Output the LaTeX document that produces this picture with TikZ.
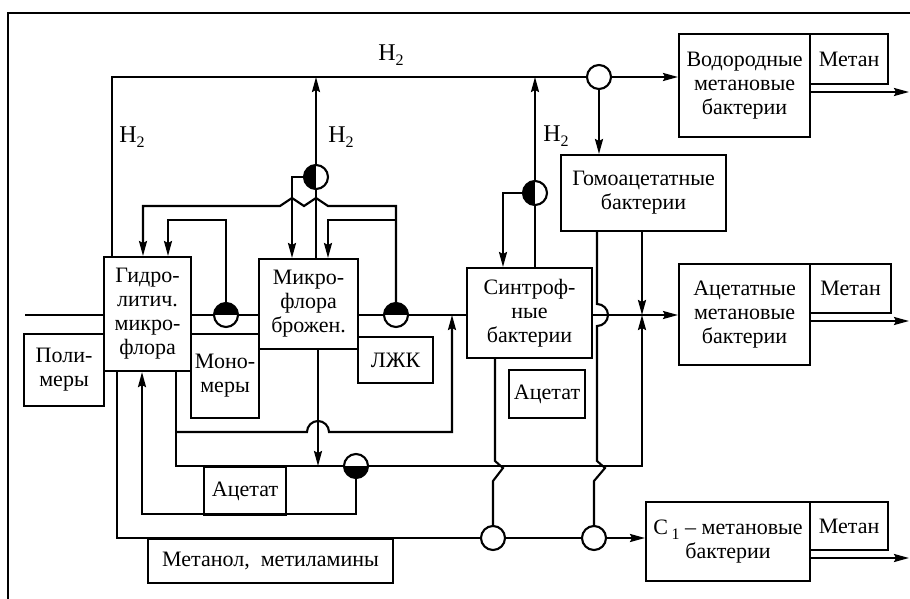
\documentclass[tikz,border=0pt]{standalone}
\usepackage{fontspec}
\setmainfont{Liberation Serif}
\usetikzlibrary{arrows.meta,calc}
\newcommand{\subnum}[1]{\raisebox{-5.5pt}{\fontsize{16}{16}\selectfont #1}}
\begin{document}
\begin{tikzpicture}[x=1pt,y=-1pt,line width=2.1pt,
  font=\fontsize{22}{24}\selectfont,
  box/.style={draw,inner sep=0pt,align=center,anchor=north west},
  circ/.style={circle,draw,fill=white,minimum size=24pt,inner sep=0pt},
  hftop/.style={circ,path picture={\fill[black] (path picture bounding box.west) rectangle (path picture bounding box.north east);}},
  hfbot/.style={circ,path picture={\fill[black] (path picture bounding box.west) rectangle (path picture bounding box.south east);}},
  hfleft/.style={circ,path picture={\fill[black] (path picture bounding box.south west) rectangle (path picture bounding box.north);}},
  arr/.style={-{Stealth[length=15pt,width=8pt,inset=2pt]}},
  lbl/.style={inner sep=0pt,font=\fontsize{24}{24}\selectfont}]
\useasboundingbox (0,0) rectangle (910,599);
% frame
\coordinate (fr1) at (910,13);
\coordinate (fr2) at (8,13);
\coordinate (fr3) at (8,599);
\draw (fr1) -- (fr2) -- (fr3);
% boxes
\node[box,minimum width=87pt,minimum height=114pt] (gidro) at (103,256) {Гидро-\\литич.\\микро-\\флора};
\node[box,minimum width=80pt,minimum height=72pt] (poli) at (23,333) {Поли-\\меры};
\node[box,minimum width=68pt,minimum height=84pt] (mono) at (190,333) {Моно-\\меры};
\node[box,minimum width=99pt,minimum height=90pt] (mikro) at (258,258) {Микро-\\флора\\брожен.};
\node[box,minimum width=75pt,minimum height=46pt] (lzhk) at (357,336) {ЛЖК};
\node[box,minimum width=125pt,minimum height=90pt] (synt) at (466,267) {Синтроф-\\ные\\бактерии};
\node[box,minimum width=76pt,minimum height=48pt] (acet2) at (508,369) {Ацетат};
\node[box,minimum width=165pt,minimum height=76pt] (gomo) at (560,154) {Гомоацетатные\\бактерии};
\node[box,minimum width=131pt,minimum height=103pt] (vodo) at (678,33) {Водородные\\метановые\\бактерии};
\node[box,minimum width=78pt,minimum height=50pt] (metan1) at (809,33) {Метан};
\node[box,minimum width=131pt,minimum height=101pt] (acetm) at (678,263) {Ацетатные\\метановые\\бактерии};
\node[box,minimum width=81pt,minimum height=49pt] (metan2) at (809,263) {Метан};
\node[box,minimum width=164pt,minimum height=79pt] (cone) at (645,501) {C\,\subnum{1} – метановые\\бактерии};
\node[box,minimum width=78pt,minimum height=48pt] (metan3) at (809,501) {Метан};
\node[box,minimum width=82pt,minimum height=48pt] (acet1) at (203,466) {Ацетат};
\node[box,minimum width=245pt,minimum height=44pt] (metanol) at (147,538) {Метанол,\ \ метиламины};
% circles
\node[circ] (co1) at (599,77) {};
\node[hfleft] (ch1) at (316,177) {};
\node[hfleft] (ch2) at (535,193) {};
\node[hftop] (ch3) at (226,315) {};
\node[hftop] (ch4) at (396,315) {};
\node[hfbot] (ch5) at (356,466) {};
\node[circ] (co2) at (493,538) {};
\node[circ] (co3) at (594,538) {};
% labels
\node[lbl] (h2a) at (391,55) {H\subnum{2}};
\node[lbl] (h2b) at (132,137) {H\subnum{2}};
\node[lbl] (h2c) at (341,137) {H\subnum{2}};
\node[lbl] (h2d) at (556,136) {H\subnum{2}};
% top H2 line
\coordinate (xa) at (112,77);
\draw (xa |- gidro.north) -- (xa) -- (co1);
\draw[arr] (co1) -- (co1 -| vodo.west);
\draw[arr] (co1) -- (co1 |- gomo.north);
% middle H2
\draw (ch1 |- mikro.north) -- (ch1);
\draw[arr] (ch1) -- (ch1 |- xa);
\coordinate (d1) at (292,177);
\draw[arr] (ch1) -- (d1) -- (d1 |- mikro.north);
% syntroph H2
\draw (ch2 |- synt.north) -- (ch2);
\draw[arr] (ch2) -- (ch2 |- xa);
\coordinate (f1) at (503,193);
\draw[arr] (ch2) -- (f1) -- (f1 |- synt.north);
% feedback loops
\coordinate (g1) at (226,220);
\coordinate (g2) at (168,220);
\draw[arr] (ch3) -- (g1) -- (g2) -- (g2 |- gidro.north);
\coordinate (h1) at (396,206);
\coordinate (h2) at (328,206);
\coordinate (h3) at (316,198);
\coordinate (h4) at (304,206);
\coordinate (h5) at (292,198);
\coordinate (h6) at (280,206);
\coordinate (h7) at (143,206);
\draw[arr] (ch4) -- (h1) -- (h2) -- (h3) -- (h4) -- (h5) -- (h6) -- (h7) -- (h7 |- gidro.north);
\coordinate (i1) at (396,220);
\coordinate (i2) at (328,220);
\draw[arr] (i1) -- (i2) -- (i2 |- mikro.north);
% main line
\coordinate (in) at (25,315);
\draw (in) -- (in -| gidro.west);
\draw (ch3 -| gidro.east) -- (ch3);
\draw (ch3) -- (ch3 -| mikro.west);
\draw (ch4 -| mikro.east) -- (ch4);
\draw (ch4) -- (ch4 -| synt.west);
\draw[arr] (ch4 -| synt.east) -- (ch4 -| acetm.west);
% homoacetate verticals
\coordinate (k1) at (597,304);
\coordinate (k3) at (597,461);
\coordinate (k4) at (605,468);
\coordinate (k5) at (594,481);
\draw (k1 |- gomo.south) -- (k1) arc[start angle=90,end angle=-90,radius=11pt] -- (k3) -- (k4) -- (k5) -- (co3);
\coordinate (k6) at (642,315);
\draw[arr] (k6 |- gomo.south) -- (k6);
% syntroph bottom
\coordinate (l1) at (495,461);
\coordinate (l2) at (503,468);
\coordinate (l3) at (493,481);
\draw (l1 |- synt.south) -- (l1) -- (l2) -- (l3) -- (co2);
% methanol line
\coordinate (m1) at (117,538);
\draw (m1 |- gidro.south) -- (m1) -- (co2);
\draw (co2) -- (co3);
\draw[arr] (co3) -- (co3 -| cone.west);
% acetate lines
\coordinate (n1) at (176,466);
\draw (n1 |- gidro.south) -- (n1) -- (ch5);
\draw[arr] (ch5) -- (k6 |- ch5) -- (k6);
\coordinate (n2) at (176,432);
\coordinate (n3) at (307,432);
\coordinate (n4) at (452,432);
\draw[arr] (n2) -- (n3) arc[start angle=180,end angle=0,radius=11pt] -- (n4) -- (n4 |- ch4);
\coordinate (o1) at (318,466);
\draw[arr] (o1 |- mikro.south) -- (o1);
\coordinate (p1) at (356,514);
\coordinate (p2) at (142,514);
\draw[arr] (ch5) -- (p1) -- (p2) -- (p2 |- gidro.south);
% methane outputs
\coordinate (q1) at (809,92);
\coordinate (q1e) at (909,92);
\coordinate (q2) at (809,321);
\coordinate (q2e) at (909,321);
\coordinate (q3) at (809,558);
\coordinate (q3e) at (909,558);
\draw[arr] (q1) -- (q1e);
\draw[arr] (q2) -- (q2e);
\draw[arr] (q3) -- (q3e);
\end{tikzpicture}
\end{document}
